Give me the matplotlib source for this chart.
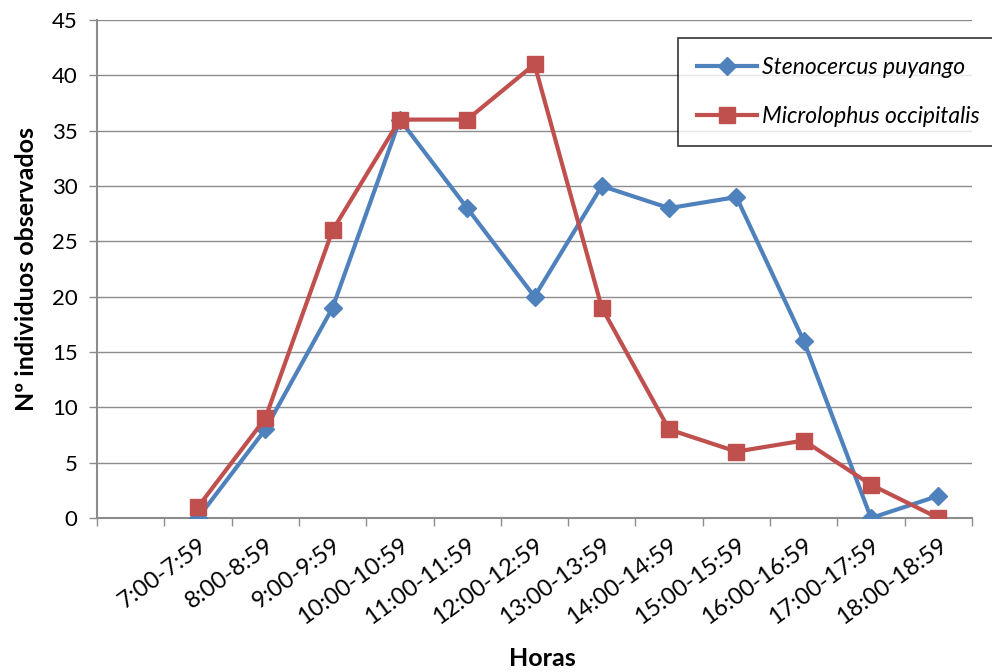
import matplotlib
matplotlib.use("Agg")
import matplotlib.pyplot as plt

plt.rcParams['font.family'] = ['Lato', 'DejaVu Sans']

categories = ["", "7:00-7:59", "8:00-8:59", "9:00-9:59", "10:00-10:59", "11:00-11:59",
              "12:00-12:59", "13:00-13:59", "14:00-14:59", "15:00-15:59", "16:00-16:59",
              "17:00-17:59", "18:00-18:59"]
stenocercus = [0, 8, 19, 36, 28, 20, 30, 28, 29, 16, 0, 2]
microlophus = [1, 9, 26, 36, 36, 41, 19, 8, 6, 7, 3, 0]

fig = plt.figure(figsize=(9.92, 6.72), dpi=100)
ax = fig.add_axes([97/992, 1-518/672, (972-97)/992, (518-20)/672])

xs = list(range(1, len(categories)))
ax.plot(xs, stenocercus, color='#4F81BD', lw=3, marker='D', ms=9,
        label='Stenocercus puyango', zorder=3)
ax.plot(xs, microlophus, color='#C0504D', lw=3, marker='s', ms=11,
        label='Microlophus occipitalis', zorder=4)

ax.set_xlim(-0.5, len(categories) - 0.5)
ax.set_ylim(0, 45)
ax.set_yticks(range(0, 46, 5))
ax.yaxis.grid(True, color='#8c8c8c', lw=1)
ax.set_axisbelow(True)

ax.set_xticks([i - 0.5 for i in range(len(categories) + 1)])
ax.set_xticklabels([])
ax.set_xticks(range(len(categories)), minor=True)
ax.set_xticklabels(categories, minor=True, rotation=36, ha='right', rotation_mode='anchor',
                   fontsize=17)
ax.tick_params(axis='x', which='minor', length=0, pad=12)
ax.tick_params(axis='x', which='major', length=6, color='#8c8c8c', width=1)
ax.tick_params(axis='y', length=6, color='#8c8c8c', width=1, labelsize=16, pad=8)

for s in ['top', 'right']:
    ax.spines[s].set_visible(False)
for s in ['left', 'bottom']:
    ax.spines[s].set_color('#8c8c8c')
    ax.spines[s].set_linewidth(1.5)

ax.set_ylabel('Nº individuos observados', fontsize=18, fontweight='bold', labelpad=10)
fig.text(542/992, 1-658/672, 'Horas', fontsize=18, fontweight='bold', ha='center', va='center')

leg = ax.legend(loc='upper left', bbox_to_anchor=(678/992, 1-38/672), bbox_transform=fig.transFigure,
                prop={'style': 'italic', 'size': 16.5}, frameon=True, fancybox=False,
                edgecolor='black', borderpad=0.85, labelspacing=1.2, handlelength=2.6,
                handletextpad=0.2, borderaxespad=0)
leg.get_frame().set_linewidth(1.2)

fig.savefig('out.png', dpi=100)
